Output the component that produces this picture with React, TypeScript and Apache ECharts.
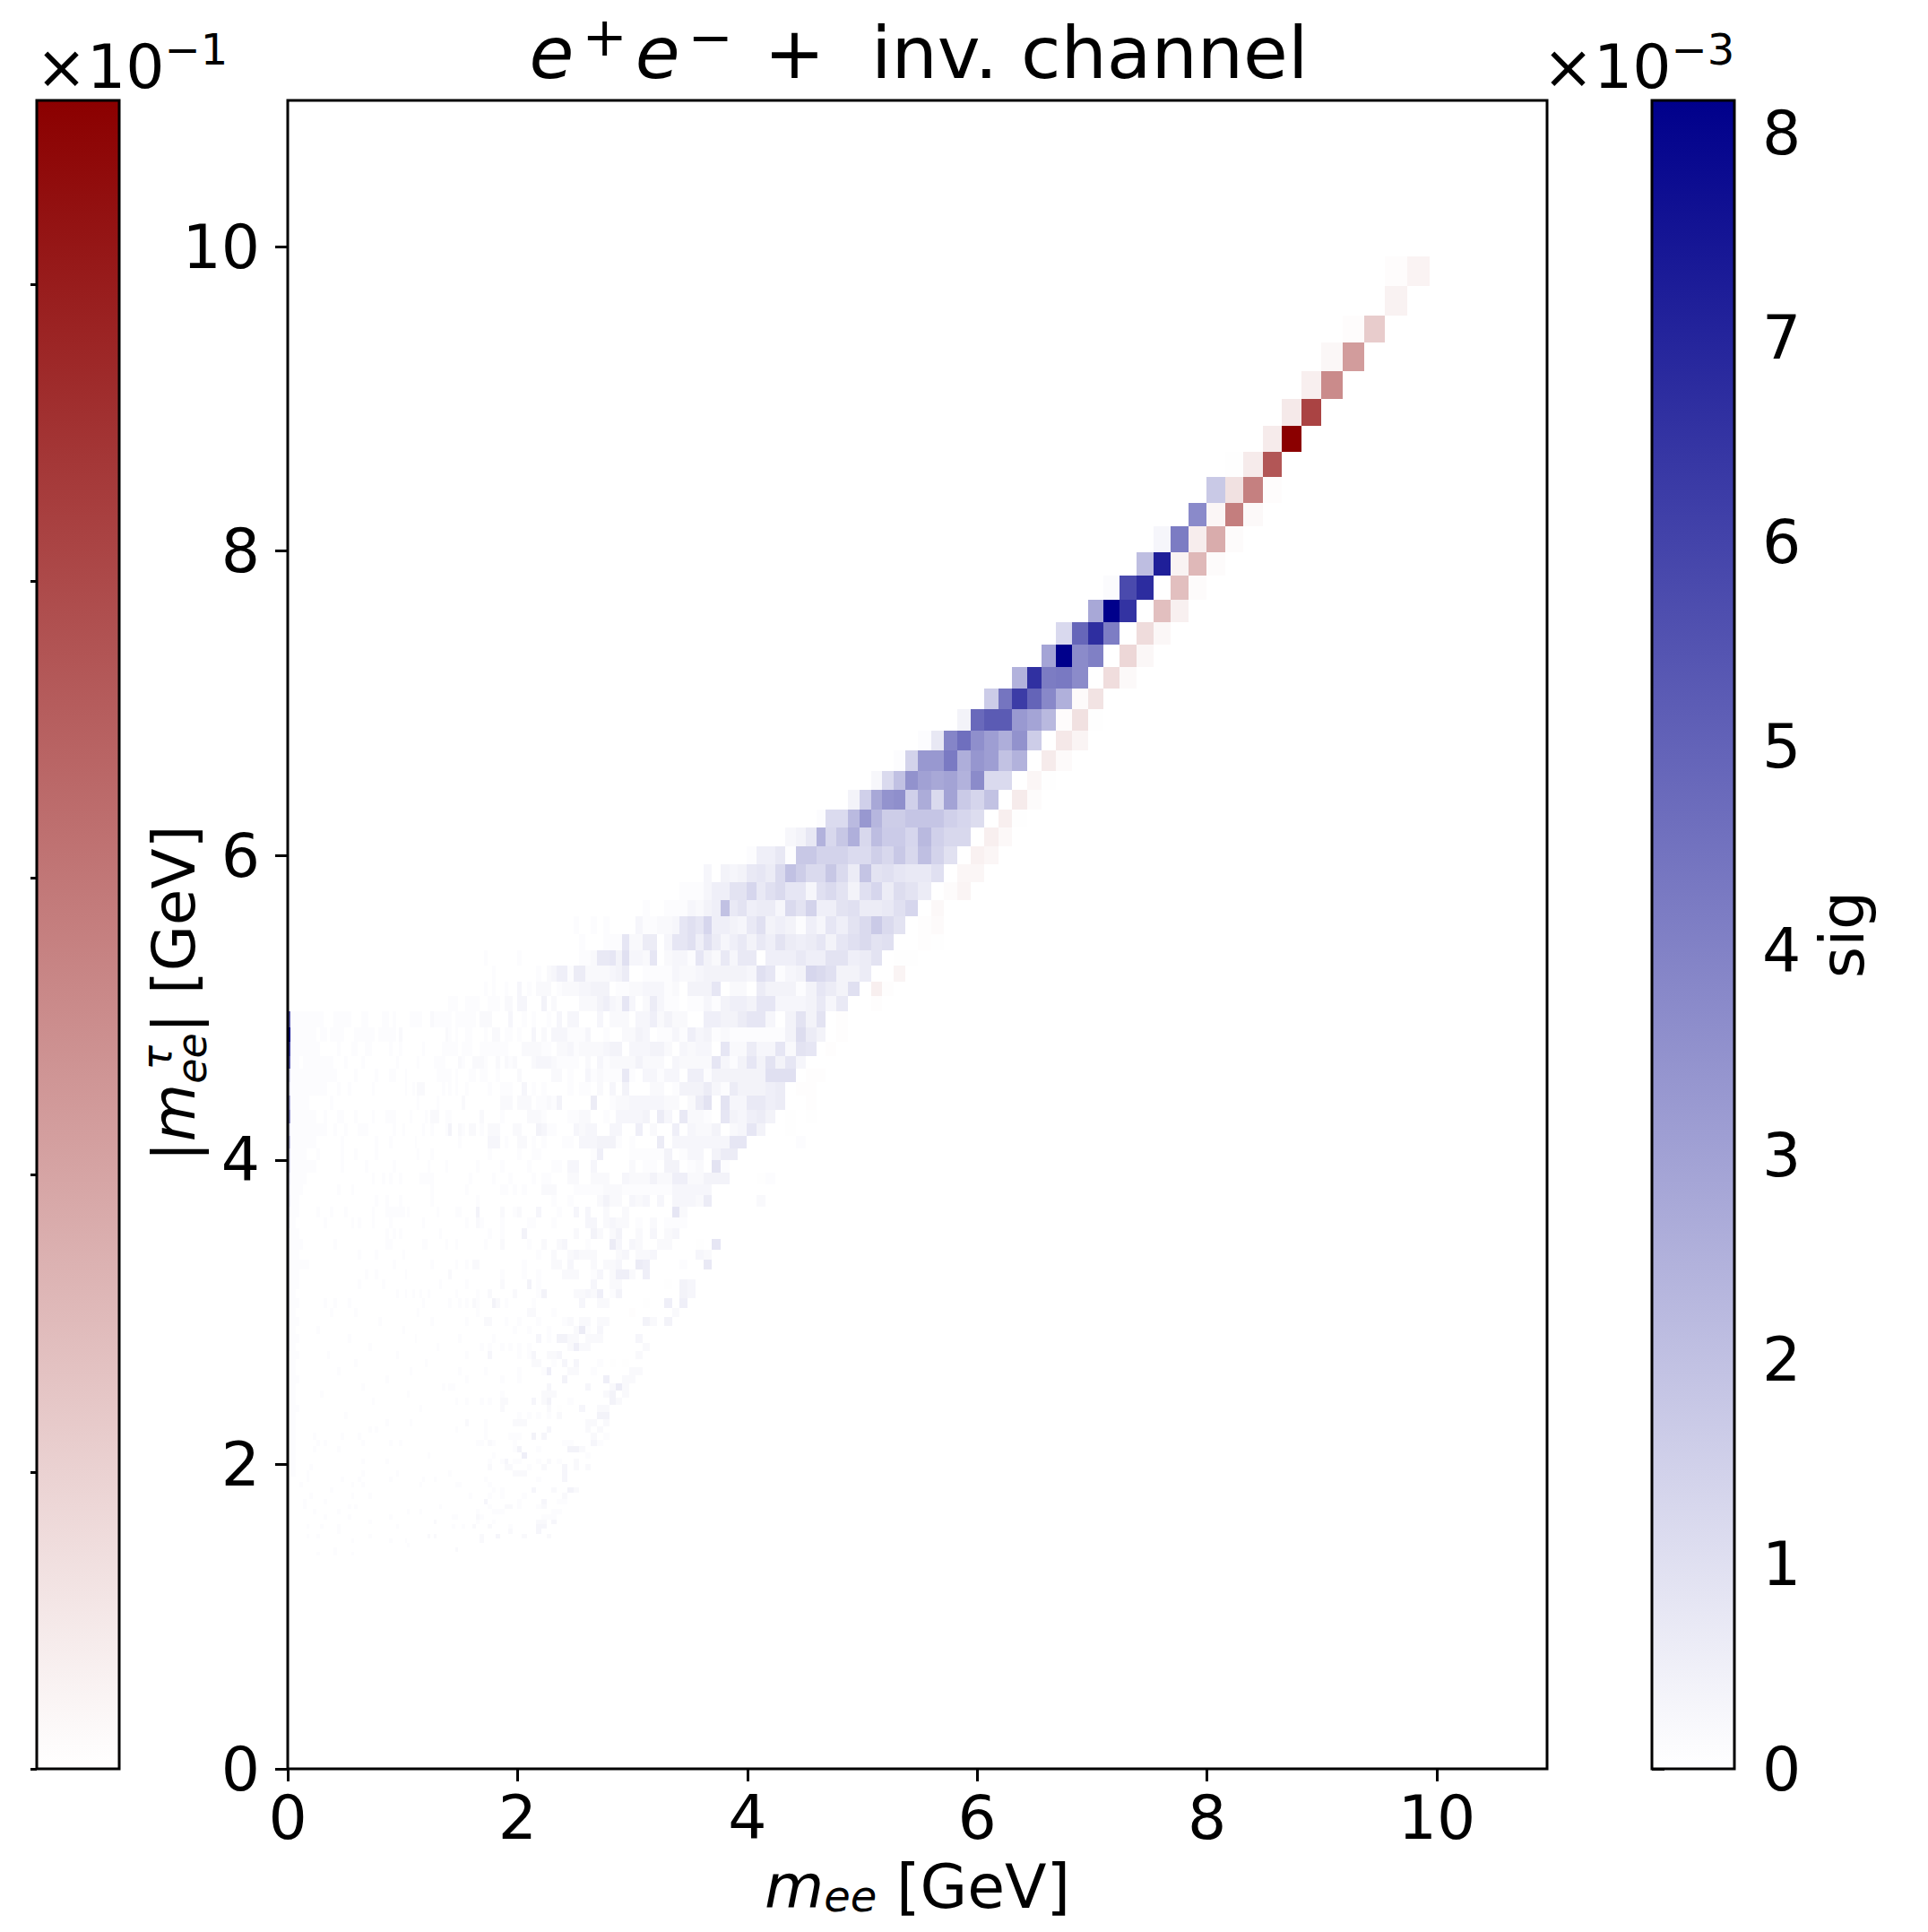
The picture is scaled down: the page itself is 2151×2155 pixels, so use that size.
import React, { useEffect, useRef } from "react";
import * as echarts from "echarts";

// bin edges, high to low; row k spans binEdges[k+1]..binEdges[k], column c likewise
const binEdges = [
  9.936,9.742,9.545,9.367,9.179,8.998,8.82,8.649,8.484,8.316,
  8.161,7.992,7.837,7.682,7.533,7.385,7.236,7.097,6.964,6.822,
  6.689,6.557,6.434,6.301,6.185,6.058,5.942,5.826,5.709,5.599,
  5.485,5.377,5.275,5.171,5.076,4.974,4.873,4.777,4.683,4.6,
  4.512,4.423,4.327,4.242,4.159,4.077,3.997,3.919,3.842,3.767,
  3.693,3.62,3.549,3.48,3.41,3.345,3.28,3.215,3.152,3.09,
  3.03,2.97,2.912,2.855,2.8,2.745,2.69,2.638,2.586,2.535,
  2.486,2.437,2.389,2.342,2.296,2.251,2.207,2.164,2.122,2.08,
  2.039,2,1.96,1.922,1.884,1.847,1.811,1.775,1.74,1.706,
  1.673,1.64,1.608,1.576,1.545,1.515,1.485,1.456,1.427,1.399,
  1.372,1.345,1.319,1.293,1.268,1.243,1.219,1.195,1.172,1.149,
  1.126,1.104,1.082,1.061,1.04,1.02,
  1,0.97,0.94,0.91,0.88,0.85,0.82,0.79,0.76,0.73,0.7,0.67,0.64,0.61,0.58,0.55,
  0.52,0.49,0.46,0.43,0.4,0.37,0.34,0.31,0.28,0.25,0.22,0.19,0.16,0.13,0.1,0.067,0.02,0,
];

// signal, units of 1e-3: [row, leftmost column, values running rightwards]
const sigRidge: [number, number, number[]][] = [
  [8,10,[1.73]],[9,11,[3.75]],[10,13,[0.29,4.2]],[11,14,[2.08,7.17]],
  [12,16,[0.12,5.79,6.75]],[13,17,[2.78,8.16,6.53]],[14,19,[1.22,4.9,6.7,4.16]],
  [15,20,[2.91,8.16,3.7,4.08]],[16,22,[2.45,6.63,4.2,4.3,3.7]],
  [17,24,[1.63,4.42,6.24,4.96,3.82,2.53]],[18,26,[0.4,4.8,5.25,5.25,3.25,2.9,2.25]],
  [19,29,[0.1,0.75,3.9,4.6,3.6,3.1,2.6,3.5,1.6]],
  [20,31,[0.1,1.4,3.3,3.3,4.25,2.6,3.35,3.1,1.95,2.45]],
  [21,33,[0.25,1.2,2,3.5,3,2.8,2.95,2.45,3.7,1.2,1.2]],
  [22,35,[0.4,1.5,2.8,3.45,3.6,1.5,2.65,1.2,2.95,1.7,1.35,1.95]],
  [23,38,[0.1,1.15,1.15,2.2,3.3,2.35,1.6,1.6,1.85,1.85,1.85,1.5,1.3,1.1]],
  [24,41,[0.25,0.4,0.75,2.45,1.25,1.8,2.55,1.25,2.1,1.65,1.65,1.3,2.25,1.5,1.25,1.25]],
  [25,45,[0.1,0.5,0.5,0.75,0.05,1.75,1.75,1.4,1.4,1.4,1.15,1.15,1.55,1.25,1.75,1.25,2.05,1.4,0.95]],
];

// signal, base-36 digits in units of 1e-4: [row, leftmost column, digits running rightwards]
const sigDense: [number, number, string][] = [
  [26,50,"30434786ckgccic6j9a877a"],
  [27,53,"11135599d7ac883ac94ad6b96"],
  [28,58,"1001113245k795663c9e559a667ad"],
  [29,69,"10010100003112238a8d55437a454153859chc9"],
  [30,68,"1000111822660388a5a63574759656848ac9a"],
  [31,88,"100000001000000000001127784a3328023318427377055575599569"],
  [32,86,"10000000001023551662222346001111322344444" + "3a8134dca446"],
  [33,88,"10100100301022201222334440112233312044480220644414864a"],
  [34,98,"111001111001110220330004020000222453283026311011314554883334737"],
  [35,98,"1011111102220000300101001030330003022203352422005544688304949"],
  [36,98,"1010011000102201101003020333111300100224301131534121111114b64"],
  [37,98,"111011100111111100022221102231222234403334420323308226338298"],
  [38,98,"00021002221002021200023332111102031222242220322228314849483"],
  [39,98,"1010001101100100002000000220100312111710331330551444444aaa"],
  [40,98,"101001000001001110030101000010110203040002201444631644456"],
  [41,98,"000020000000002220222011214000006001223333322026909337756"],
  [42,98,"10000000020000100000222100001122001033334063072210843564"],
  [43,98,"4002102201022200022000431100032330033005020050322402384"],
];

// signal, units of 1e-4: [row, [column, value, column, value, ...]]
const sigSparse: [number, number[]][] = [
  [44,[95,1,87,3,86,3,85,3,83,1,80,2,79,2,77,1,75,1,71,1,70,1,68,3,67,3,66,3,65,4,64,4,63,4,62,1,60,1,56,6,54,3,53,3,52,3,51,3,50,3,49,3,48,3,47,8,46,8,40,1]],
  [45,[87,1,80,1,77,1,76,1,66,1,65,5,60,1,59,1,58,1,57,1,56,1,55,4,53,1,52,3,51,3,49,4,48,6,47,6]],
  [46,[90,1,84,1,78,1,73,1,72,1,70,3,69,3,66,3,60,2,58,1,57,1,55,4,54,4,52,1,51,2,49,9,48,1]],
  [47,[92,1,86,1,82,1,77,1,75,1,74,1,70,2,69,2,66,2,65,2,64,2,61,3,60,2,59,2,58,2,57,4,56,2,55,2,54,5,53,5,52,2,51,2,50,4,49,4,48,4,43,1]],
  [48,[93,1,84,1,83,1,81,1,79,1,75,2,74,2,73,2,69,1,68,1,67,1,66,1,65,1,64,2,63,2,62,2,61,1,60,1,59,1,58,1,57,1,56,1,55,1,54,3,53,3,52,3,51,3,50,3]],
  [49,[90,1,73,1,70,1,65,2,64,4,63,2,62,2,60,3,59,2,58,3,56,3,54,3,53,3,52,3,51,2,50,6,44,2]],
  [50,[96,1,90,4,84,2,81,1,80,2,76,3,72,1,69,3,67,3,64,2,61,2,54,8,53,2]],
  [51,[93,1,90,2,89,1,84,1,78,1,77,1,73,1,67,3,66,3,64,2,63,3,62,2,61,2,59,1,57,2,55,1,54,1,53,1]],
  [52,[87,1,84,1,79,4,69,2,66,4,65,2,63,2,62,4,59,2,57,3,55,2,54,3]],
  [53,[96,1,88,1,84,2,78,1,75,2,72,2,71,3,67,1,63,6,62,3,60,3,59,2,56,2,55,2,49,8]],
  [54,[76,1,73,2,70,2,69,3,68,2,67,2,66,2,62,2,61,3,59,2,58,2,57,3,51,3,50,2]],
  [55,[96,1,93,1,91,2,90,2,79,1,73,2,72,2,70,3,66,2,64,2,63,2,62,3,59,6,58,5,53,1,50,7]],
  [56,[98,2,84,1,79,1,76,1,71,2,70,2,69,2,66,1,65,3,63,2,62,5,61,5,60,2,58,5]],
  [57,[93,1,84,2,78,4,76,1,66,3,63,2,62,2,53,4,52,3]],
  [58,[96,1,90,1,87,2,81,2,76,1,75,4,69,2,68,2,67,3,66,2,65,5,63,1,62,4,53,4,52,3]],
  [59,[98,1,95,1,93,1,91,2,90,1,86,4,85,2,83,1,77,1,68,3,65,2,64,2,55,5,53,5]],
  [60,[90,1,78,2,77,2,73,1,54,2]],
  [61,[93,1,88,2,87,2,83,1,80,1,76,1,71,1,70,2,68,2,67,2,65,2,64,2,58,4,57,2,55,4]],
  [62,[81,1,78,1,74,1,69,2,68,6,67,1,65,3]],
  [63,[95,1,86,1,76,3,74,1,72,4,71,4,70,2,69,2,67,2,66,2,65,2,59,3]],
  [64,[89,1,87,1,84,1,82,1,80,1,78,1,70,2,69,5,68,2,67,2,58,2]],
  [65,[93,1,87,3,80,1,78,1,77,3,74,2,73,2,72,3,59,2]],
  [66,[77,2,76,2,73,1,71,3,69,3,65,1]],
  [67,[95,1,88,1,80,1,75,1,74,5,70,2,69,2,66,1,60,2,59,2]],
  [68,[93,1,84,1,80,1,71,4,64,5,61,2,60,2]],
  [69,[98,1,97,1,74,3,67,3,63,2,62,6,61,2]],
  [70,[84,1,75,2,74,2,73,2,64,2,63,4,61,2]],
  [71,[96,1,93,1,89,1,87,1,84,2,83,2,77,3,75,2,74,4,70,1,63,4,62,2]],
  [72,[84,2,74,2,68,3,65,2,64,2]],
  [73,[80,1,78,1,76,1,74,1,72,2,65,4,64,4]],
  [74,[93,2,88,1,81,2,80,2,79,2,67,2,66,2,64,2,120,1,112,1]],
  [75,[96,1,88,1,74,3,67,2,65,2,125,1,123,1]],
  [76,[88,1,82,1,81,1,80,1,77,4,75,3,66,2,64,1,141,1,133,1,128,1]],
  [77,[90,1,89,1,87,2,86,1,81,1,71,1,70,1,66,3,65,1,140,1,138,1,127,1,119,1,116,1]],
  [78,[81,1,80,4,76,1,70,4,69,4,68,2,141,1,134,1]],
  [79,[86,1,79,5,67,1,105,1]],
  [80,[87,1,84,1,83,3,81,1,80,1,76,1,74,2,72,1,69,2,127,1,120,1]],
  [81,[87,2,83,2,82,2,78,1,75,2,71,3,69,2,67,2,142,1]],
  [82,[98,1,81,2,80,2,79,2,71,3,143,1,127,1,117,1]],
  [83,[88,1,76,1,71,3,143,1,133,1,128,1,119,1,107,1,103,1]],
  [84,[96,1,87,1,145,1,130,1,127,1,108,1,95,1]],
  [85,[86,1,84,1,77,3,73,2,70,4,69,2,136,1]],
  [86,[92,1,87,1,84,1,79,1,71,2,142,1,130,1,125,1]],
  [87,[88,3,80,1,75,3,72,1,71,1,144,1,138,1]],
  [88,[87,1,83,2,82,2,80,1,76,1,75,2,144,1,131,1,129,1,101,1]],
  [89,[90,1,86,1,85,1,84,1,73,1,72,1,141,1,134,1,113,1,108,1]],
  [90,[97,1,90,2,89,1,75,1,74,1,73,1,138,1,131,1,119,1,96,1]],
  [91,[90,1,86,1,73,3,76,2,75,2,125,1,103,2]],
  [92,[97,1,94,1,82,1,75,3,76,3,91,2,87,2,143,1,139,1,134,1,117,1]],
  [93,[134,1,82,2,76,3]],
  [94,[143,1,140,1,125,1,105,2,103,2,89,2,85,3,79,2,74,2]],
  [95,[130,1,119,1,114,1,89,2]],
  [96,[113,1]],
  [97,[135,1,96,2]],
  [98,[140,1,135,1,130,1]],
  [55,[147,1,146,1,145,1,144,1,143,1,118,1,104,1]],
  [56,[147,1,146,1,126,1,123,1,114,1]],
  [57,[147,1,146,1,128,1,121,1,101,1]],
  [58,[147,1,117,1,114,1,111,1,108,1,105,1]],
  [59,[147,1,146,1,138,1,135,1,131,1,107,1]],
  [60,[147,1,136,1,129,1,109,1]],
  [61,[147,1,146,1,122,1,104,1]],
  [62,[147,1,140,1,115,1]],
  [63,[147,1,146,1,131,1,110,1]],
  [64,[147,1,125,1,102,1]],
  [65,[147,1,146,1,137,1,117,1]],
  [66,[147,1,129,1,106,1]],
  [67,[147,1,134,1,112,1]],
  [68,[147,1,146,1,120,1]],
  [69,[147,1,127,1,100,1]],
  [70,[147,1,139,1,113,1]],
  [71,[147,1,124,1]],
  [72,[147,1,146,1,108,1]],
  [73,[147,1,132,1]],
  [74,[147,1]],[75,[147,1]],[76,[147,1]],[77,[147,1]],[78,[147,1]],[79,[147,1]],[80,[147,1]],[81,[147,1]],[82,[147,1]],
  [47,[147,1,146,1,145,1,144,1,124,1,121,1,119,1,116,1,108,1,107,1,106,1,105,1,104,1]],
  [48,[147,1,146,1,145,1,134,1,130,1,104,1]],
  [49,[147,1,146,1,123,1,120,1,116,1,104,1]],
  [50,[147,1,146,1,140,1,136,1,132,1,124,1,120,1,119,1,118,1,117,1,116,1,115,1,113,1,102,1,95,1]],
  [51,[147,1,138,1,130,1,128,1,124,1,119,1,107,1]],
  [52,[147,1,146,1,120,1,118,1,116,1,101,1]],
  [53,[147,1,146,1,145,1,135,1,120,1,119,1,107,1,106,1,99,1]],
  [54,[147,1,146,1,128,1,123,1,115,1]],
];

// signal, base-36 digits in units of 1e-4, running rightwards from column 147: [row, digits]
const sigLeft: [number, string][] = [
  [35,"1111111110001111100011000011010000011111000211111"],
  [36,"1111111011011110001111110111110200000000000000002"],
  [37,"1111111100000100011001100000100100000000100000011"],
  [38,"1101111111110001000010000000001000000010000011110"],
  [39,"1111111111111000001000001000110001000000000001111"],
  [40,"1111111111000100100000010000000001001022200000010"],
  [41,"1111100000010000000000000000000000000010000001000"],
  [42,"1111111001000110001000010001110000010000010222001"],
  [43,"1111111111001001000111000000010010000000100100001"],
  [44,"1111111000000010000000001000100000000100000000000"],
  [45,"1111000100000010001000001000000000000010000100000"],
  [46,"1111111000000010000001000000010000000000001000001"],
];

// stripe on the left edge, units of 1e-3: [first row, values by row]
const edgeStripeStart = 35;
const edgeStripe = [5,8,6,5,1.5,1,2.6,3.5,1,2,1.2,1.2,0.8,0.7,0.8,0.6,0.5,0.3,0.3,0.3,0.3,0.3,0.3,0.3,0.3,0.3,0.2,0.2,0.2,0.2];

// background, units of 1e-1: [row, column, value]
const bkgCells: [number, number, number][] = [
  [0,1,0.06],[0,0,0.26],[1,1,0.28],[2,3,0.06],[2,2,1.12],[3,4,0.17],[3,3,2.18],[4,5,0.35],[4,4,2.56],
  [5,6,0.48],[5,5,4.14],[6,7,0.45],[6,6,5.62],[7,9,0.03],[7,8,0.45],[7,7,3.72],[8,9,0.66],[8,8,2.8],[8,7,0.07],
  [9,10,0.2],[9,9,2.85],[9,8,0.14],[10,11,0.4],[10,10,1.83],[10,9,0.08],[11,12,0.27],[11,11,1.56],[11,10,0.08],
  [12,12,1.41],[12,11,0.08],[13,13,1.41],[13,12,0.33],[14,14,0.77],[14,13,0.17],[15,15,0.88],[15,14,0.17],
  [16,16,0.75],[16,15,0.14],[17,18,0.1],[17,17,0.62],[18,19,0.06],[18,18,0.66],[18,17,0.03],[19,19,0.5],[19,18,0.25],
  [20,20,0.45],[20,19,0.1],[21,21,0.2],[21,20,0.03],[22,22,0.45],[22,21,0.08],[23,23,0.35],[23,22,0.03],
  [24,24,0.35],[24,23,0.15],[25,25,0.3],[25,24,0.2],[26,26,0.2],[26,25,0.2],[27,27,0.08],[27,26,0.25],[28,28,0.15],
  [29,29,0.05],[29,28,0.12],[30,29,0.05],[30,28,0.03],[31,31,0.03],[31,30,0.03],[32,31,0.25],[33,33,0.35],[33,32,0.05],
  [34,33,0.05],[35,36,0.05],[36,36,0.05],[37,37,0.05],[39,39,0.05],[39,38,0.05],[40,40,0.05],[40,39,0.05],[41,39,0.05],
  [42,41,0.03],[42,39,0.03],[43,41,0.03],[47,44,0.03],[53,51,0.03],[57,55,0.03],[59,58,0.03],[60,60,0.05],[66,63,0.03],[66,61,0.03],[72,72,0.03],
];

const axisMax = 10.96;
const mainTicks = [0, 2, 4, 6, 8, 10];
const sigMax = 8.16;
const sigTicks = [0, 1, 2, 3, 4, 5, 6, 7, 8];
const bkgMax = 5.62;
const bkgTicks = [0, 1, 2, 3, 4, 5];

const FONT = "DejaVu Sans";

function sigColor(v: number) {
  const t = Math.min(1, v / sigMax);
  const c = Math.round(255 * (1 - t));
  return `rgb(${c},${c},${Math.round(255 - 116 * t)})`;
}
function bkgColor(v: number) {
  const t = Math.min(1, v / bkgMax);
  const c = Math.round(255 * (1 - t));
  return `rgb(${Math.round(255 - 116 * t)},${c},${c})`;
}

function buildCells() {
  const cells: number[][] = [];
  const push = (row: number, col: number, v: number, kind: number) => {
    if (!(v > 0)) return;
    const x1 = binEdges[col], x0 = binEdges[col + 1];
    const y1 = binEdges[row], y0 = binEdges[row + 1];
    if (x0 === undefined || y0 === undefined) return;
    cells.push([x0, x1, y0, y1, v, kind]);
  };
  sigRidge.forEach(([r, c, vals]) => vals.forEach((v, i) => push(r, c - i, v, 0)));
  sigDense.forEach(([r, c, s]) =>
    s.split("").forEach((ch, i) => push(r, c - i, parseInt(ch, 36) / 10, 0))
  );
  sigSparse.forEach(([r, list]) => {
    for (let i = 0; i < list.length; i += 2) push(r, list[i], list[i + 1] / 10, 0);
  });
  sigLeft.forEach(([r, s]) =>
    s.split("").forEach((ch, i) => push(r, 147 - i, parseInt(ch, 36) / 10, 0))
  );
  edgeStripe.forEach((v, i) => push(edgeStripeStart + i, 148, v, 0));
  bkgCells.forEach(([r, c, v]) => push(r, c, v, 1));
  return cells;
}

function cellRender(params: any, api: any) {
  const p0 = api.coord([api.value(0), api.value(3)]);
  const p1 = api.coord([api.value(1), api.value(2)]);
  const x = Math.round(p0[0]);
  const y = Math.round(p0[1]);
  const v = api.value(4);
  return {
    type: "rect",
    shape: { x, y, width: Math.max(1, Math.round(p1[0]) - x), height: Math.max(1, Math.round(p1[1]) - y) },
    style: { fill: api.value(5) === 0 ? sigColor(v) : bkgColor(v) },
  };
}

function barRender(color: string) {
  return (params: any, api: any) => {
    const p0 = api.coord([0, api.value(0)]);
    const p1 = api.coord([1, 0]);
    return {
      type: "rect",
      shape: { x: p0[0], y: p0[1], width: p1[0] - p0[0], height: p1[1] - p0[1] },
      style: {
        fill: new echarts.graphic.LinearGradient(0, 0, 0, 1, [
          { offset: 0, color },
          { offset: 1, color: "#ffffff" },
        ]),
      },
    };
  };
}

const tickStyle = { lineStyle: { color: "#000", width: 3 } };
const frame = {
  show: true, borderColor: "#000", borderWidth: 3, backgroundColor: "transparent", z: 5,
  outerBoundsMode: "none", containLabel: false,
};
const supRich = {
  a: { fontSize: 68, fontFamily: FONT, color: "#000", lineHeight: 86 },
  s: { fontSize: 48, fontFamily: FONT, color: "#000", verticalAlign: "top", lineHeight: 52 },
};

export default function App() {
  const ref = useRef<HTMLDivElement>(null);
  useEffect(() => {
    document.body.style.margin = "0";
    const chart = echarts.init(ref.current!, undefined, { renderer: "svg" });
    chart.setOption({
      animation: false,
      backgroundColor: "#fff",
      title: {
        text: "{e|e}{s|+}{e|e}{s|−} +  inv. channel",
        left: 1020,
        top: 6,
        textAlign: "center",
        textStyle: {
          fontSize: 81,
          fontWeight: "normal",
          fontFamily: FONT,
          color: "#000",
          rich: {
            e: { fontSize: 81, fontStyle: "italic", fontFamily: FONT, color: "#000", lineHeight: 96 },
            s: { fontSize: 60, fontFamily: FONT, color: "#000", verticalAlign: "top", lineHeight: 56, padding: [0, 9, 0, 9] },
          },
        },
      },
      grid: [
        { left: 321, top: 112, width: 1405, height: 1861, ...frame },
        { left: 41, top: 112, width: 92, height: 1861, ...frame },
        { left: 1843, top: 112, width: 92, height: 1861, ...frame },
      ],
      xAxis: [
        {
          type: "value", gridIndex: 0, min: 0, max: axisMax,
          splitLine: { show: false }, axisLine: { show: false },
          axisTick: { show: true, length: 14, customValues: mainTicks, ...tickStyle },
          axisLabel: { show: true, customValues: mainTicks, margin: 20, fontSize: 68, fontFamily: FONT, color: "#000" },
          name: "{m|m}{sub|ee} [GeV]",
          nameLocation: "middle",
          nameGap: 96,
          nameTextStyle: {
            fontSize: 68, fontFamily: FONT, color: "#000",
            rich: {
              m: { fontSize: 68, fontStyle: "italic", fontFamily: FONT, color: "#000", lineHeight: 70 },
              sub: { fontSize: 48, fontStyle: "italic", fontFamily: FONT, color: "#000", verticalAlign: "bottom", lineHeight: 46 },
            },
          },
        },
        { type: "value", gridIndex: 1, min: 0, max: 1, show: false },
        { type: "value", gridIndex: 2, min: 0, max: 1, show: false },
      ],
      yAxis: [
        {
          type: "value", gridIndex: 0, min: 0, max: axisMax,
          splitLine: { show: false }, axisLine: { show: false },
          axisTick: { show: true, length: 14, customValues: mainTicks, ...tickStyle },
          axisLabel: { show: true, customValues: mainTicks, margin: 31, fontSize: 68, fontFamily: FONT, color: "#000" },
        },
        {
          type: "value", gridIndex: 1, min: 0, max: bkgMax, position: "left",
          splitLine: { show: false }, axisLine: { show: false },
          axisTick: { show: true, length: 7, customValues: bkgTicks, ...tickStyle },
          axisLabel: { show: false },
        },
        {
          type: "value", gridIndex: 2, min: 0, max: sigMax, position: "right",
          splitLine: { show: false }, axisLine: { show: false },
          axisTick: { show: true, length: 14, customValues: sigTicks, ...tickStyle },
          axisLabel: { show: true, customValues: sigTicks, margin: 31, fontSize: 68, fontFamily: FONT, color: "#000" },
          name: "sig",
          nameLocation: "middle",
          nameGap: 86,
          nameRotate: 90,
          nameTextStyle: { fontSize: 68, fontFamily: FONT, color: "#000" },
        },
      ],
      series: [
        {
          type: "custom", coordinateSystem: "cartesian2d", xAxisIndex: 0, yAxisIndex: 0,
          data: buildCells(), renderItem: cellRender, encode: { x: [0, 1], y: [2, 3] },
          silent: true, progressive: 0, z: 2,
        },
        {
          type: "custom", coordinateSystem: "cartesian2d", xAxisIndex: 1, yAxisIndex: 1,
          data: [[bkgMax]], renderItem: barRender("#8b0000"), encode: { y: 0 }, silent: true, z: 2,
        },
        {
          type: "custom", coordinateSystem: "cartesian2d", xAxisIndex: 2, yAxisIndex: 2,
          data: [[sigMax]], renderItem: barRender("#00008b"), encode: { y: 0 }, silent: true, z: 2,
        },
      ],
      graphic: [
        {
          type: "text", left: 40, top: 31, z: 10,
          style: { text: "{a|×10}{s|−1}", fontSize: 68, fontFamily: FONT, fill: "#000", rich: supRich },
        },
        {
          type: "text", left: 1721, top: 31, z: 10,
          style: { text: "{a|×10}{s|−3}", fontSize: 68, fontFamily: FONT, fill: "#000", rich: supRich },
        },
        {
          type: "text", x: 194, y: 1108, rotation: Math.PI / 2, z: 10,
          style: {
            text: "|{m|m}{sub|ee}| [GeV]", align: "center", verticalAlign: "middle",
            fontSize: 66, fontFamily: FONT, fill: "#000",
            rich: {
              m: { fontSize: 66, fontStyle: "italic", fontFamily: FONT, fill: "#000", lineHeight: 86 },
              sub: { fontSize: 46, fontStyle: "italic", fontFamily: FONT, fill: "#000", verticalAlign: "bottom", lineHeight: 56 },
            },
          },
        },
        {
          type: "text", x: 175, y: 1180, rotation: Math.PI / 2, z: 10,
          style: { text: "τ", align: "center", verticalAlign: "middle", fontSize: 46, fontStyle: "italic", fontFamily: FONT, fill: "#000" },
        },
      ],
    });
    return () => chart.dispose();
  }, []);
  return <div ref={ref} style={{ position: "absolute", left: 0, top: 0, width: 2151, height: 2155 }} />;
}
